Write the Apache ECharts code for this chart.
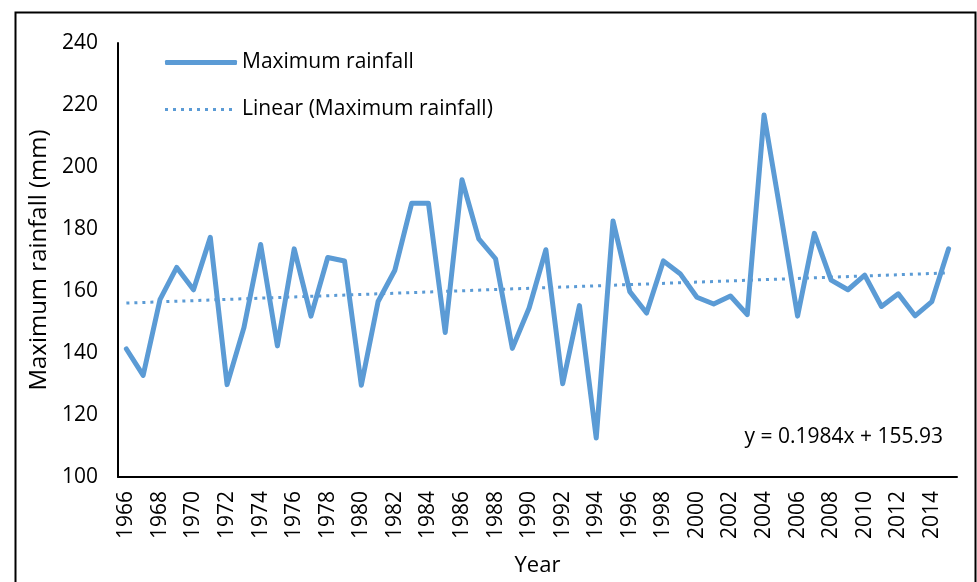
<!DOCTYPE html>
<html>
<head>
<meta charset="utf-8">
<script src="https://cdn.jsdelivr.net/npm/echarts@6/dist/echarts.min.js"></script>
<style>
html,body{margin:0;padding:0;background:#fff;}
#chart{width:977px;height:582px;}
</style>
</head>
<body>
<div id="chart"></div>
<script>
var years = [];
for (var y = 1966; y <= 2015; y++) years.push(String(y));

var maxRainfall = [
  141.3, 132.8, 157.2, 167.6, 160.4, 177.3, 129.8, 148.1, 175.0, 142.3,
  173.6, 151.9, 170.8, 169.7, 129.6, 156.6, 166.7, 188.3, 188.3, 146.6,
  195.9, 176.8, 170.4, 141.5, 154.5, 173.3, 130.1, 155.3, 112.6, 182.6,
  159.8, 152.9, 169.7, 165.6, 158.0, 155.8, 158.4, 152.4, 216.8, 184.7,
  151.9, 178.6, 163.5, 160.4, 165.1, 155.0, 159.1, 152.0, 156.6, 173.6
];

// trend line end points (first and last year)
var trendStart = 156.1;
var trendEnd = 165.85;
var trendData = years.map(function (_, i) {
  if (i === 0) return trendStart;
  if (i === years.length - 1) return trendEnd;
  return null;
});

var yTicks = [100, 120, 140, 160, 180, 200, 220, 240];
var equationText = 'y = 0.1984x + 155.93';

var FONT = 'Open Sans';
var BLUE = '#5B9BD5';

// dotted legend icon: a row of small squares
var dotPath = 'path://';
for (var d = 0; d < 9; d++) {
  dotPath += 'M' + (d * 8) + ',0h3v3h-3z';
}

var chart = echarts.init(document.getElementById('chart'));
chart.setOption({
  animation: false,
  backgroundColor: '#fff',
  textStyle: { fontFamily: FONT, color: '#000' },
  grid: { left: 118, right: 20, top: 43, bottom: 99, containLabel: false },
  legend: [
    {
      data: [{ name: 'Maximum rainfall', icon: 'roundRect' }],
      left: 160, top: 47,
      itemWidth: 72, itemHeight: 5,
      textStyle: { fontFamily: FONT, fontSize: 21, color: '#000' }
    },
    {
      data: [{ name: 'Linear (Maximum rainfall)', icon: dotPath }],
      left: 160, top: 94,
      itemWidth: 67, itemHeight: 3,
      textStyle: { fontFamily: FONT, fontSize: 21, color: '#000', padding: [0, 0, 0, 5] }
    }
  ],
  xAxis: {
    type: 'category',
    data: years,
    boundaryGap: true,
    name: 'Year',
    nameLocation: 'middle',
    nameGap: 78,
    nameTextStyle: { fontFamily: FONT, fontSize: 22, color: '#000' },
    axisLine: { lineStyle: { color: '#000', width: 2 } },
    axisTick: { show: false },
    axisLabel: { interval: 1, rotate: 90, margin: 14, fontFamily: FONT, fontSize: 21, color: '#000' },
    splitLine: { show: false }
  },
  yAxis: {
    type: 'value',
    min: yTicks[0],
    max: yTicks[yTicks.length - 1],
    interval: 20,
    name: 'Maximum rainfall (mm)',
    nameLocation: 'middle',
    nameGap: 64,
    nameTextStyle: { fontFamily: FONT, fontSize: 24, color: '#000' },
    axisLine: { show: true, lineStyle: { color: '#000', width: 2 } },
    axisTick: { show: false },
    axisLabel: { margin: 20, fontFamily: FONT, fontSize: 21, color: '#000' },
    splitLine: { show: false }
  },
  series: [
    {
      name: 'Maximum rainfall',
      type: 'line',
      data: maxRainfall,
      symbol: 'none',
      lineStyle: { color: BLUE, width: 5, cap: 'round', join: 'round' },
      itemStyle: { color: BLUE },
      z: 3
    },
    {
      name: 'Linear (Maximum rainfall)',
      type: 'line',
      data: trendData,
      connectNulls: true,
      symbol: 'none',
      lineStyle: { color: BLUE, width: 3, type: [3, 5] },
      itemStyle: { color: BLUE },
      z: 2
    }
  ],
  graphic: [
    {
      type: 'rect',
      left: 13, top: 10,
      shape: { width: 960, height: 620 },
      style: { fill: 'none', stroke: '#000', lineWidth: 2 },
      silent: true
    },
    {
      type: 'text',
      right: 34, top: 427,
      style: { text: equationText, fontFamily: FONT, fontSize: 21, fill: '#000' }
    }
  ]
});
</script>
</body>
</html>
